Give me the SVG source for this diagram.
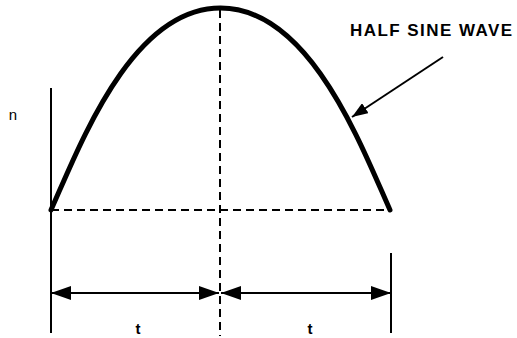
<svg xmlns="http://www.w3.org/2000/svg" width="517" height="338" viewBox="0 0 517 338">
<defs>
<style>
.ln{stroke:#000;stroke-width:2;fill:none}
.dash{stroke:#000;stroke-width:2;fill:none;stroke-dasharray:8 5}
.wave{stroke:#000;stroke-width:5;fill:none;stroke-linecap:round;stroke-linejoin:round}
.lbl{font-family:"Liberation Sans",Arial,sans-serif;fill:#000}
</style>
<marker id="ah" viewBox="0 0 20 14" refX="20" refY="7" markerWidth="20" markerHeight="14" markerUnits="userSpaceOnUse" orient="auto-start-reverse">
<path d="M0,0 L20,7 L0,14 Z" fill="#000"/>
</marker>
<marker id="ph" viewBox="0 0 16 12" refX="16" refY="6" markerWidth="16" markerHeight="12" markerUnits="userSpaceOnUse" orient="auto">
<path d="M0,0 L16,6 L0,12 Z" fill="#000"/>
</marker>
</defs>
<rect width="517" height="338" fill="#fff"/>
<g id="axes">
<line class="ln" x1="51" y1="88" x2="51" y2="333"/>
<line class="ln" x1="391" y1="253" x2="391" y2="333"/>
<line class="dash" x1="220" y1="10" x2="220" y2="336"/>
<line class="dash" x1="51" y1="210" x2="390" y2="210"/>
</g>
<g id="wave">
<path class="wave" d="M51,210 C79.5,146.5 131,8 220.5,8 C310,8 361.5,146.5 390,210"/>
</g>
<g id="connectors">
<line class="ln" x1="51" y1="293" x2="219" y2="293" marker-start="url(#ah)" marker-end="url(#ah)"/>
<line class="ln" x1="221" y1="293" x2="391" y2="293" marker-start="url(#ah)" marker-end="url(#ah)"/>
<line class="ln" x1="443" y1="57" x2="352" y2="117" marker-end="url(#ph)"/>
</g>
<g id="labels">
<text class="lbl" x="13" y="120" font-size="15" text-anchor="middle">n</text>
<text class="lbl" x="138" y="334" font-size="15" font-weight="bold" text-anchor="middle">t</text>
<text class="lbl" x="310" y="334" font-size="15" font-weight="bold" text-anchor="middle">t</text>
<text class="lbl" x="350" y="36" font-size="17" font-weight="bold" textLength="162" lengthAdjust="spacing">HALF SINE WAVE</text>
</g>
</svg>
